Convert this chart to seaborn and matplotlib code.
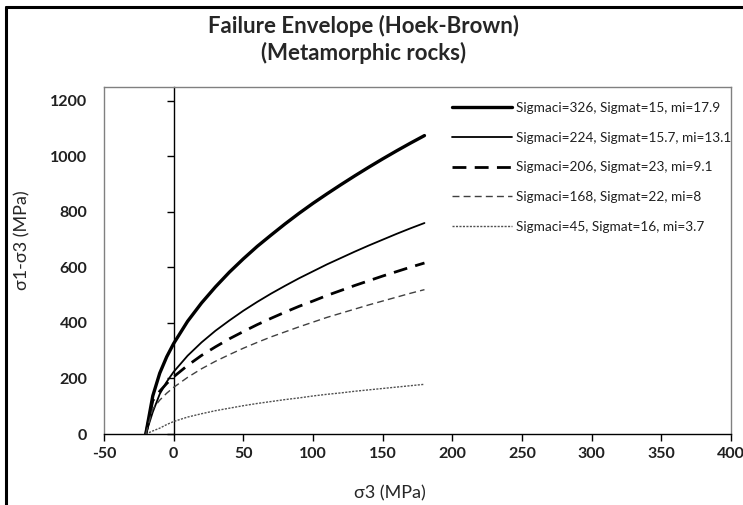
import matplotlib
matplotlib.use("Agg")
import matplotlib.pyplot as plt
import seaborn as sns
import pandas as pd
from matplotlib.lines import Line2D

# ---- data ----
sigma3 = [-20, -15, -10, -5, 0, 10, 20, 30, 40, 50, 60, 70, 80, 90, 100,
          110, 120, 130, 140, 150, 160, 170, 180]
s326 = [0, 137, 219, 278, 326, 406, 472, 530, 583, 631, 676, 717, 757, 795, 831,
        865, 898, 930, 961, 991, 1020, 1048, 1075]
s224 = [0, 79, 144, 188, 224, 282, 330, 372, 409, 444, 476, 506, 534, 561, 586,
        611, 634, 657, 679, 700, 721, 741, 760]
s206 = [0, 120, 154, 182, 206, 247, 283, 314, 343, 369, 394, 417, 439, 460, 479,
        499, 517, 535, 552, 569, 585, 601, 616]
s168 = [0, 90, 122, 147, 168, 204, 235, 262, 286, 309, 330, 350, 368, 386, 403,
        420, 435, 450, 465, 479, 493, 507, 520]
s45 = [0, 11, 21, 34, 45, 61, 73, 84, 93, 102, 110, 117, 124, 130, 137,
       143, 148, 154, 159, 164, 169, 174, 179]

labels = ["Sigmaci=326, Sigmat=15, mi=17.9",
          "Sigmaci=224, Sigmat=15.7, mi=13.1",
          "Sigmaci=206, Sigmat=23, mi=9.1",
          "Sigmaci=168, Sigmat=22, mi=8",
          "Sigmaci=45, Sigmat=16, mi=3.7"]
series = [s326, s224, s206, s168, s45]

xticks = [-50, 0, 50, 100, 150, 200, 250, 300, 350, 400]
yticks = [0, 200, 400, 600, 800, 1000, 1200]

title1 = "Failure Envelope (Hoek-Brown)"
title2 = "(Metamorphic rocks)"
xlabel = "σ3 (MPa)"
ylabel = "σ1-σ3 (MPa)"

# ---- styles ----
styles = [
    dict(color="black", lw=2.4, ls="-"),
    dict(color="black", lw=1.3, ls="-"),
    dict(color="black", lw=2.0, ls=(0, (5, 3))),
    dict(color="#404040", lw=1.0, ls=(0, (5, 3))),
    dict(color="#505050", lw=1.0, ls=(0, (1.5, 1))),
]

sns.set_style("white")
plt.rcParams["font.family"] = ["Lato", "DejaVu Sans"]
plt.rcParams["axes.unicode_minus"] = False

fig = plt.figure(figsize=(7.43, 5.05), dpi=100)
ax = fig.add_axes([104 / 743, 1 - 434 / 505, (731 - 104) / 743, (434 - 87) / 505])

for vals, lab, st in zip(series, labels, styles):
    df = pd.DataFrame({"x": sigma3, "y": vals})
    sns.lineplot(data=df, x="x", y="y", ax=ax, label=lab, color=st["color"],
                 linewidth=st["lw"], linestyle=st["ls"], estimator=None, sort=False)

ax.set_xlim(-50, 400)
ax.set_ylim(0, 1250)
ax.set_xticks(xticks)
ax.set_yticks(yticks)
ax.set_xlabel("")
ax.set_ylabel("")

for side in ["left", "top", "right"]:
    ax.spines[side].set_color("#808080")
    ax.spines[side].set_linewidth(1.0)
ax.spines["bottom"].set_color("black")
ax.spines["bottom"].set_linewidth(1.0)

ax.tick_params(axis="x", which="both", bottom=True, length=5, width=1,
               direction="out", colors="black", pad=4, labelsize=11.5)
ax.tick_params(axis="y", which="both", left=False, length=0, pad=12,
               labelsize=11.5, labelcolor="black")
for t in ax.get_xticklabels() + ax.get_yticklabels():
    t.set_fontweight("bold")
    t.set_color("#202020")

# vertical axis line at x = 0 with tick marks
sec = ax.secondary_yaxis(50 / 450)
sec.set_yticks(yticks)
sec.tick_params(axis="y", length=5, width=1, direction="out", labelleft=False,
                labelright=False, colors="black")
sec.spines["left"].set_color("black")
sec.spines["left"].set_linewidth(1.0)

leg = ax.legend(loc="upper left", bbox_to_anchor=(452 / 743, 1 - 102 / 505),
                bbox_transform=fig.transFigure, frameon=False, fontsize=9.8,
                handlelength=4.4, handletextpad=0.3, labelspacing=1.3,
                borderpad=0, borderaxespad=0)
for t in leg.get_texts():
    t.set_color("#202020")

fig.text(364 / 743, 1 - 26 / 505, title1, ha="center", va="center",
         fontsize=16, fontweight="bold")
fig.text(364 / 743, 1 - 53 / 505, title2, ha="center", va="center",
         fontsize=16, fontweight="bold")
fig.text(390 / 743, 1 - 493 / 505, xlabel, ha="center", va="center", fontsize=13)
fig.text(22 / 743, 1 - 240 / 505, ylabel, ha="center", va="center",
         fontsize=13, rotation=90)

# outer chart border (left and top only visible)
fig.add_artist(Line2D([6.5 / 743, 6.5 / 743], [0, 1 - 6.5 / 505],
                      transform=fig.transFigure, color="black", lw=2.2))
fig.add_artist(Line2D([6.5 / 743, 1], [1 - 6.5 / 505, 1 - 6.5 / 505],
                      transform=fig.transFigure, color="black", lw=2.2))

fig.savefig("out.png", dpi=100)
